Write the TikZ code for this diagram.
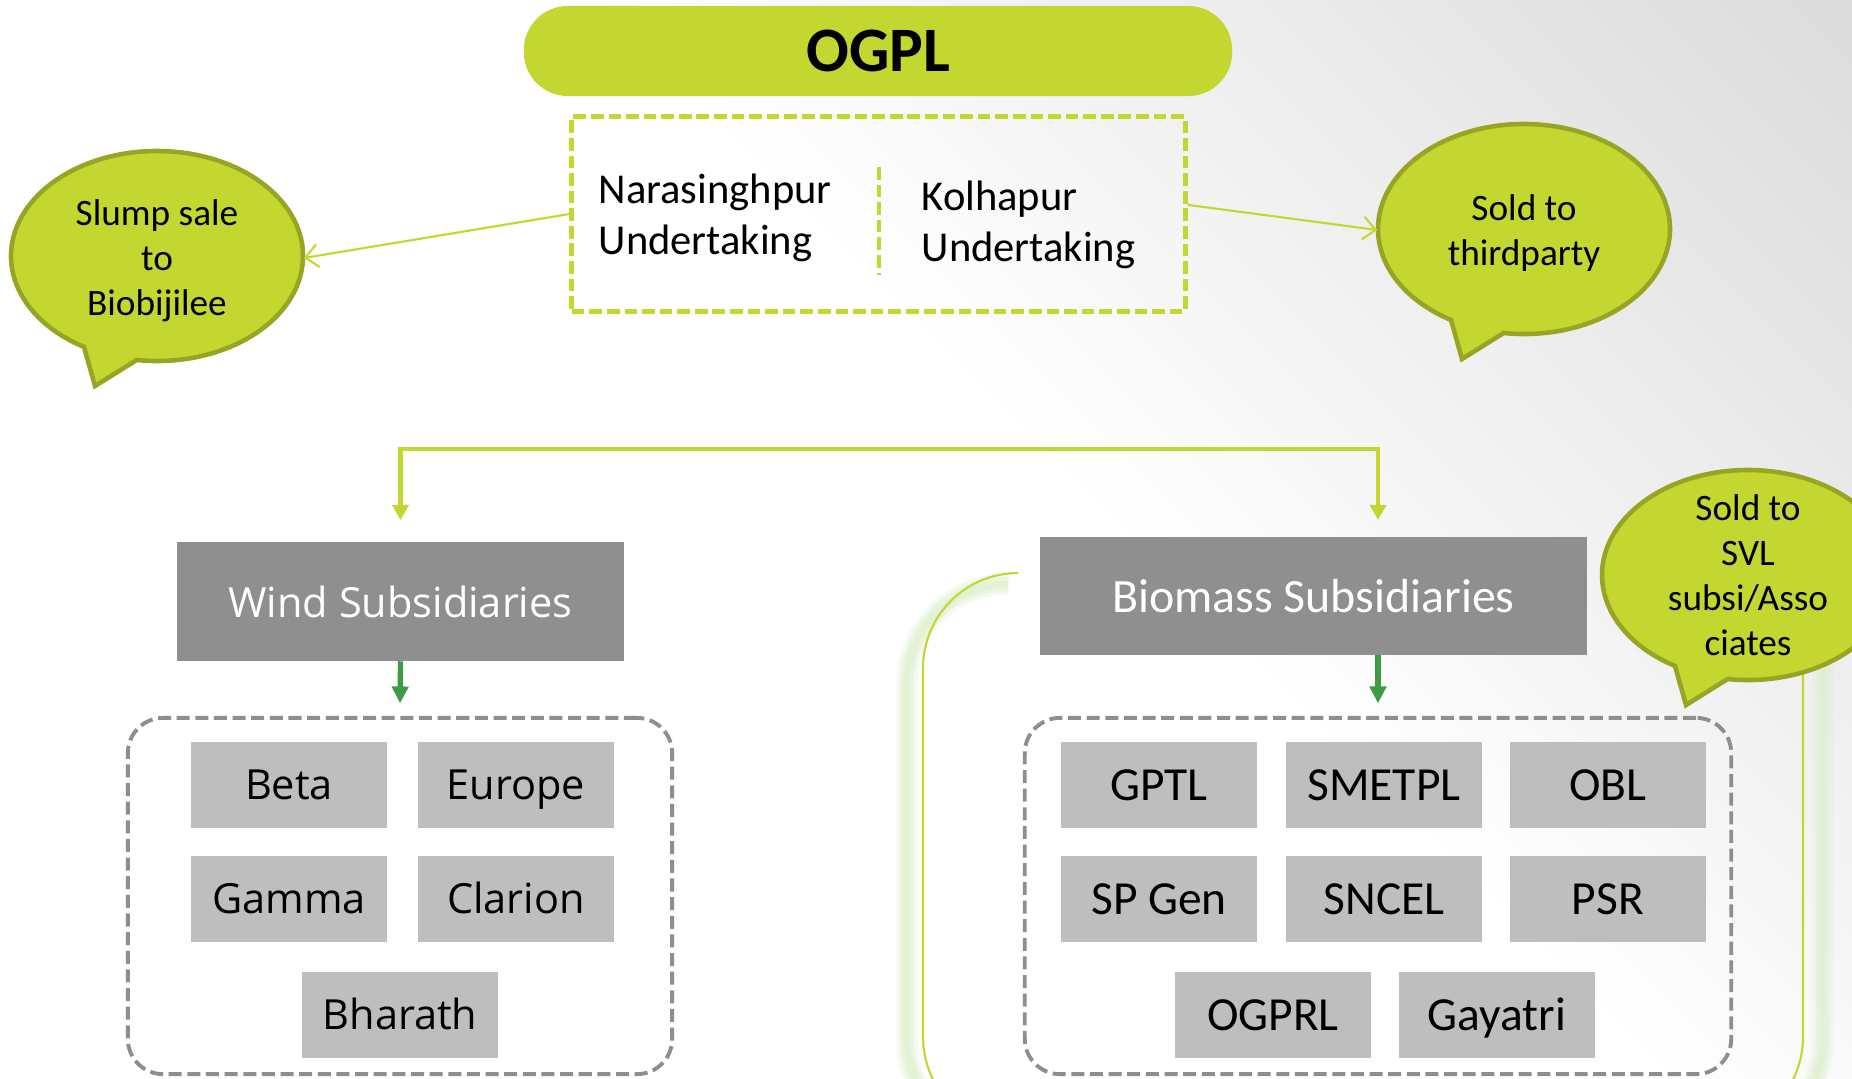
\documentclass[tikz,border=0pt]{standalone}
\usepackage{fontspec}
\setmainfont{Carlito}
\newfontfamily\windfont{Open Sans}
\usetikzlibrary{arrows.meta,shapes.geometric}

\definecolor{ogplgreen}{RGB}{196,214,48}
\definecolor{bubbleedge}{RGB}{152,165,36}
\definecolor{headgray}{RGB}{143,143,143}
\definecolor{cellgray}{RGB}{190,190,190}
\definecolor{framegray}{RGB}{142,142,142}
\definecolor{downgreen}{RGB}{62,154,68}
\definecolor{glowgreen}{RGB}{222,240,206}

\begin{document}
\begin{tikzpicture}[x=0.01cm, y=-0.01cm,
    bubble/.style={fill=ogplgreen, draw=bubbleedge, line width=1.3pt, line join=miter},
    bubbletext/.style={ellipse, minimum width=2.92cm, minimum height=2.1cm, inner sep=0pt, text depth=0pt, align=center, font=\fontsize{10.6}{12.8}\selectfont},
    headbox/.style={fill=headgray, text=white, minimum height=1.18cm, inner sep=0pt},
    cell/.style={fill=cellgray, minimum width=1.95cm, minimum height=0.85cm, inner sep=0pt},
    windcell/.style={cell, text height=10pt, text depth=1.6pt, font=\windfont\fontsize{11.8}{14}\selectfont},
    biocell/.style={cell, text height=10.8pt, text depth=2.1pt, font=\fontsize{13.5}{16}\selectfont},
    groupframe/.style={draw=framegray, line width=1.1pt, dash pattern=on 3.7pt off 1.6pt, rounded corners=10pt},
    sidearrow/.style={draw=ogplgreen, line width=0.6pt, -{Straight Barb[length=3.6pt, width=6.5pt]}},
    splitarrow/.style={draw=ogplgreen, line width=1.4pt, {Triangle[length=4.3pt, width=4.6pt]}-{Triangle[length=4.3pt, width=4.6pt]}},
    downarrow/.style={draw=downgreen, line width=1.5pt, -{Triangle[length=4.8pt, width=4.6pt]}},
  ]
  \useasboundingbox (0,0) rectangle (1852,1078);
  \fill[white] (0,0) rectangle (1852,1078);

  % grey corner shade
  \begin{scope}[transform canvas={rotate around={-45:(1852,0)}}]
    \shade[top color=black!19, bottom color=white] (252,-300) rectangle (3452,900);
  \end{scope}

  % biomass outline with soft glow
  \foreach \w/\o in {6pt/0.3, 4pt/0.45, 2pt/0.6}
    \draw[glowgreen, line width=\w, opacity=\o, rounded corners=1cm] (1008,584) -- (907,584) -- (907,1140) -- (1823,1140) -- (1823,655);
  \draw[ogplgreen, line width=0.6pt, rounded corners=0.95cm] (1018,573) -- (923,573) -- (923,1132) -- (1803,1132) -- (1803,640);

  % top
  \node[fill=ogplgreen, rounded corners=12.5pt, minimum width=7.08cm, minimum height=0.9cm, font=\bfseries\fontsize{18}{21}\selectfont] (ogpl) at (878,51) {OGPL};
  \node[draw=ogplgreen, line width=1.4pt, dash pattern=on 3.6pt off 1.4pt, minimum width=6.13cm, minimum height=1.94cm] (undert) at (878.5,214) {};
  \draw[ogplgreen, line width=1.1pt, dash pattern=on 3.6pt off 1.4pt] (879,167) -- (879,275);
  \node[anchor=west, align=left, inner sep=0pt, font=\fontsize{12.1}{14.5}\selectfont] (narsingh) at (598,218) {Narasinghpur\\Undertaking};
  \node[anchor=west, align=left, inner sep=0pt, font=\fontsize{12.1}{14.5}\selectfont] (kolhapur) at (921,225) {Kolhapur\\Undertaking};

  % speech bubbles
  \foreach \cx/\cy in {157/256, 1524/229, 1748/575}
    \filldraw[bubble] ([shift={(\cx,\cy)}]98:146 and 105) arc[start angle=98, end angle=-240, x radius=146, y radius=105] -- ([shift={(\cx,\cy)}]-62,130) -- cycle;
  \node[bubbletext] (slump) at (157,258) {Slump sale\\to\\Biobijilee};
  \node[bubbletext] (third) at (1524,230) {Sold to\\thirdparty};
  \node[bubbletext] (svl) at (1748,575) {Sold to\\SVL\\subsi/Asso\\ciates};

  \draw[sidearrow] (undert.west) -- (slump.east);
  \draw[sidearrow] ([yshift=2.6pt]undert.east) -- (third.west);

  % subsidiaries
  \node[headbox, minimum width=4.47cm, font=\windfont\fontsize{11.8}{14}\selectfont] (wind) at (400.5,601.5) {Wind Subsidiaries};
  \node[headbox, minimum width=5.46cm, minimum height=1.17cm, font=\fontsize{13.6}{16}\selectfont] (biomass) at (1313.5,596) {Biomass Subsidiaries};

  \node[groupframe, minimum width=5.44cm, minimum height=3.56cm] (windset) at (400,896) {};
  \node[groupframe, minimum width=7.06cm, minimum height=3.56cm] (bioset) at (1378,896) {};

  \node[windcell] (beta) at (289,785) {Beta};
  \node[windcell] (europe) at (516,785) {Europe};
  \node[windcell] (gamma) at (289,899) {Gamma};
  \node[windcell] (clarion) at (516,899) {Clarion};
  \node[windcell] (bharath) at (400,1015) {Bharath};

  \node[biocell] (gptl) at (1159,785) {GPTL};
  \node[biocell] (smetpl) at (1384,785) {SMETPL};
  \node[biocell] (obl) at (1608,785) {OBL};
  \node[biocell] (spgen) at (1159,899) {SP Gen};
  \node[biocell] (sncel) at (1384,899) {SNCEL};
  \node[biocell] (psr) at (1608,899) {PSR};
  \node[biocell] (ogprl) at (1273,1015) {OGPRL};
  \node[biocell] (gayatri) at (1497,1015) {Gayatri};

  % connectors
  \coordinate (split) at (889,449);
  \coordinate (biotop) at (biomass.north -| bioset.north);
  \draw[splitarrow] ([yshift=6.2pt]wind.north) |- (split) -| ([yshift=4.8pt]biotop);
  \draw[downarrow] (wind.south) -- ([yshift=3.6pt]windset.north);
  \draw[downarrow] (biomass.south -| bioset.north) -- ([yshift=3.6pt]bioset.north);
\end{tikzpicture}
\end{document}
